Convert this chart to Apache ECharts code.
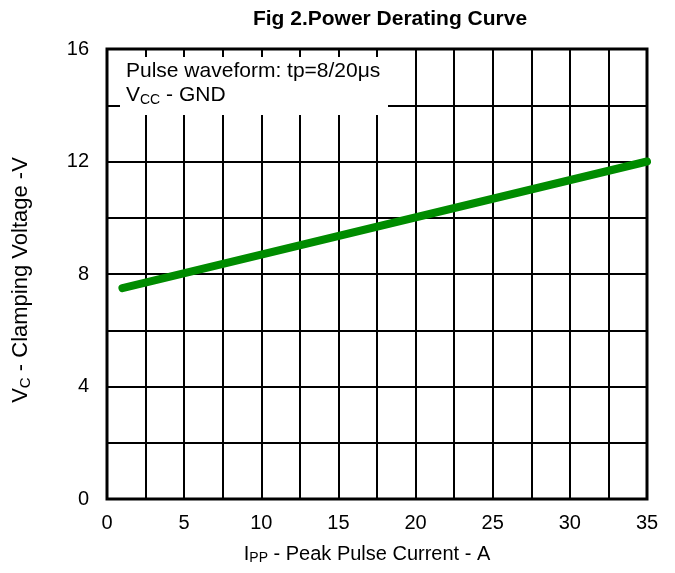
<!DOCTYPE html>
<html>
<head>
<meta charset="utf-8">
<script src="https://cdn.jsdelivr.net/npm/echarts@6/dist/echarts.min.js"></script>
<style>
  html, body { margin: 0; padding: 0; background: #fff; }
  #chart { width: 675px; height: 573px; }
</style>
</head>
<body>
<div id="chart"></div>
<script>
// current (A) vs clamping voltage (V)
const currents = [1, 35];
const voltages = [7.5, 12];
const xTicks = [0, 5, 10, 15, 20, 25, 30, 35];
const yTicks = [0, 4, 8, 12, 16];

const font = 'Arial, "Liberation Sans", sans-serif';
const chart = echarts.init(document.getElementById('chart'));

const option = {
  animation: false,
  title: {
    text: 'Fig 2.Power Derating Curve',
    left: 385,
    textAlign: 'center',
    top: 4,
    textStyle: { fontFamily: font, fontSize: 21, fontWeight: 'bold', color: '#000' }
  },
  grid: {
    left: 107, right: 28, top: 49, bottom: 74,
    show: true, borderColor: '#000', borderWidth: 3, backgroundColor: 'transparent'
  },
  xAxis: {
    type: 'value',
    min: 0, max: 35, interval: 2.5,
    axisLine: { show: false },
    axisTick: { show: false },
    splitLine: { show: true, lineStyle: { color: '#000', width: 2 } },
    axisLabel: {
      margin: 14,
      fontFamily: font, fontSize: 20, color: '#000',
      formatter: v => (xTicks.indexOf(v) >= 0 ? String(v) : '')
    },
    name: '{n|I}{s|PP}{n| - Peak Pulse Current - A}',
    nameLocation: 'middle',
    nameGap: 44,
    nameTextStyle: {
      padding: [0, 20, 0, 0],
      rich: {
        n: { fontSize: 20, fontFamily: font, color: '#000' },
        s: { fontSize: 14, fontFamily: font, color: '#000', padding: [8, 0, 0, 0] }
      }
    }
  },
  yAxis: {
    type: 'value',
    min: 0, max: 16, interval: 2,
    axisLine: { show: false },
    axisTick: { show: false },
    splitLine: { show: true, lineStyle: { color: '#000', width: 2 } },
    axisLabel: {
      margin: 18,
      fontFamily: font, fontSize: 20, color: '#000',
      formatter: v => (yTicks.indexOf(v) >= 0 ? String(v) : '')
    },
    name: '{n|V}{s|C}{n| - Clamping Voltage -V}',
    nameLocation: 'middle',
    nameGap: 74,
    nameTextStyle: {
      padding: [0, 12, 0, 0],
      rich: {
        n: { fontSize: 22, fontFamily: font, color: '#000' },
        s: { fontSize: 15, fontFamily: font, color: '#000', padding: [9, 0, 0, 0] }
      }
    }
  },
  graphic: [
    {
      type: 'rect',
      left: 120, top: 57,
      shape: { width: 268, height: 58 },
      style: { fill: '#fff' },
      z: 10
    },
    {
      type: 'text',
      left: 126, top: 61,
      z: 11,
      style: {
        text: '{n|Pulse waveform: tp=8/20μs}\n{n|V}{s|CC}{n| - GND}',
        rich: {
          n: { fontSize: 21, fontFamily: font, color: '#000', lineHeight: 24 },
          s: { fontSize: 14, fontFamily: font, color: '#000', lineHeight: 24, padding: [9, 0, 0, 0] }
        }
      }
    }
  ],
  series: [
    {
      type: 'line',
      data: currents.map((c, i) => [c, voltages[i]]),
      symbol: 'none',
      lineStyle: { color: '#008c00', width: 8, cap: 'round' },
      z: 5
    }
  ]
};

chart.setOption(option);
</script>
</body>
</html>
